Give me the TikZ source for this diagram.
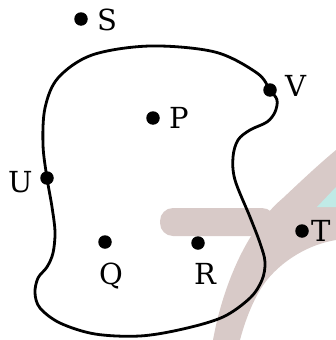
\documentclass[tikz,border=0pt]{standalone}
\usepackage{fontspec}
\usepackage{tikz}
\newfontfamily\lblfont{DejaVu Serif}
\newcommand{\lblsize}{\fontsize{29}{31}\selectfont}
\definecolor{wmpink}{RGB}{216,202,200}
\definecolor{wmcyan}{RGB}{192,234,230}
\tikzset{
  pt/.style={circle,fill=black,inner sep=0pt,minimum size=13.5pt},
  lbl/.style={inner sep=0pt,anchor=base west,font=\lblfont\lblsize},
  outline/.style={line width=2.8pt,line join=round}
}
\begin{document}
\begin{tikzpicture}[x=1pt,y=-1pt]
\useasboundingbox (0,0) rectangle (336,340);
% watermark
\fill[wmpink] (213,340) .. controls (222,290) and (245,230) .. (283,198) .. controls (300,182) and (318,165) .. (336,150) -- (336,240) .. controls (305,245) and (275,265) .. (260,290) .. controls (250,307) and (244,325) .. (240,340) -- cycle;
\fill[wmpink, rounded corners=13pt] (160,208) rectangle (275,236);
\fill[wmcyan] (317,207) -- (336,187) -- (336,207) -- cycle;
% closed curve
\draw[outline] plot[smooth cycle, tension=0.55] coordinates {
 (150,46) (215,52) (257,73) (270,90) (277,100) (275,112) (267,122) (250,130) (238,140) (233,157) (235,180) (250,217) (260,243) (265,262) (262,280) (250,298) (223,317) (183,329) (140,336) (95,334) (60,323) (40,308) (35,293) (38,278) (47,267) (53,253) (55,232) (52,207) (47,178) (43,145) (45,108) (58,78) (92,55)};
% points
\node[pt] (S) at (81,19) {};
\node[pt] (V) at (270,90) {};
\node[pt] (P) at (153,118) {};
\node[pt] (U) at (47,178) {};
\node[pt] (Q) at (105,242) {};
\node[pt] (R) at (198,243) {};
\node[pt] (T) at (302,231) {};
% labels
\node[lbl] (lS) at (97,30) {S};
\node[lbl] (lV) at (285,96) {V};
\node[lbl] (lP) at (169,128) {P};
\node[lbl] (lU) at (8,192) {U};
\node[lbl] (lQ) at (99,284) {Q};
\node[lbl] (lR) at (194,284) {R};
\node[lbl] (lT) at (311,241) {T};
\end{tikzpicture}
\end{document}
